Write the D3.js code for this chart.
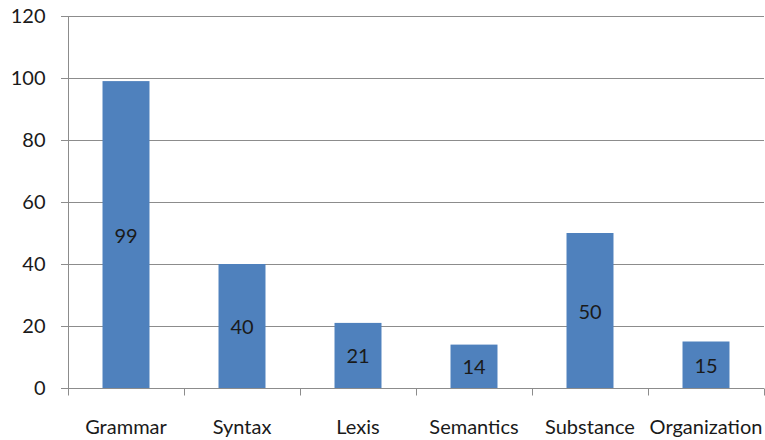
<!DOCTYPE html>
<html>
<head>
<meta charset="utf-8">
<script src="https://cdn.jsdelivr.net/npm/d3@7"></script>
<style>
  html, body { margin: 0; padding: 0; background: #fff; }
  svg { display: block; }
  text { font-family: Lato, "Open Sans", sans-serif; fill: #1a1a1a; }
</style>
</head>
<body>
<svg id="chart" width="765" height="440"></svg>
<script>
const categories = ["Grammar", "Syntax", "Lexis", "Semantics", "Substance", "Organization"];
const values = [99, 40, 21, 14, 50, 15];
const yTicks = [0, 20, 40, 60, 80, 100, 120];

(function () {
const svg = d3.select("#chart");
const pLeft = 68, pRight = 764, pTop = 16, pBottom = 388;
const fs = 20;

const x = d3.scaleBand().domain(categories).range([pLeft, pRight]).paddingInner(0.595).paddingOuter(0.2975);
const xOuter = d3.scaleBand().domain(categories).range([pLeft, pRight]);
const y = d3.scaleLinear().domain([0, 120]).range([pBottom, pTop]);

// gridlines
svg.append("g").selectAll("line").data(yTicks.filter(d => d > 0)).join("line")
  .attr("x1", pLeft - 7).attr("x2", pRight)
  .attr("y1", d => Math.round(y(d)) + 0.5).attr("y2", d => Math.round(y(d)) + 0.5)
  .attr("stroke", "#8c8c8c").attr("stroke-width", 1);

// bars
svg.append("g").selectAll("rect").data(categories).join("rect")
  .attr("x", d => x(d))
  .attr("width", x.bandwidth())
  .attr("y", (d, i) => y(values[i]))
  .attr("height", (d, i) => y(0) - y(values[i]))
  .attr("fill", "#4f81bd");

// y axis
const yAxis = svg.append("g").attr("transform", `translate(${pLeft + 0.5},0)`)
  .call(d3.axisLeft(y).tickValues(yTicks).tickSize(7).tickPadding(16));
yAxis.select(".domain").attr("stroke", "#8c8c8c").attr("d", `M0,${pTop}V${pBottom}`);
yAxis.selectAll(".tick line").attr("stroke", "#8c8c8c");
yAxis.selectAll(".tick text").attr("font-size", fs).attr("fill", "#1a1a1a")
  .style("font-family", "Lato, 'Open Sans', sans-serif");

// x axis
const xAxis = svg.append("g").attr("transform", `translate(0,${pBottom + 0.5})`);
xAxis.append("line").attr("x1", pLeft - 7).attr("x2", pRight).attr("stroke", "#8c8c8c");
const boundaries = [pLeft].concat(categories.map(c => xOuter(c) + xOuter.bandwidth()));
xAxis.selectAll("line.tk").data(boundaries).join("line").attr("class", "tk")
  .attr("x1", d => Math.round(d) + 0.5).attr("x2", d => Math.round(d) + 0.5)
  .attr("y1", 0).attr("y2", 7).attr("stroke", "#8c8c8c");
xAxis.selectAll("text").data(categories).join("text")
  .attr("x", d => xOuter(d) + xOuter.bandwidth() / 2)
  .attr("y", 45)
  .attr("text-anchor", "middle")
  .attr("font-size", fs)
  .text(d => d);

// data labels
svg.append("g").selectAll("text").data(categories).join("text")
  .attr("x", d => x(d) + x.bandwidth() / 2)
  .attr("y", (d, i) => (y(values[i]) + y(0)) / 2 + 8)
  .attr("text-anchor", "middle")
  .attr("font-size", fs)
  .text((d, i) => values[i]);
})();
</script>
</body>
</html>
